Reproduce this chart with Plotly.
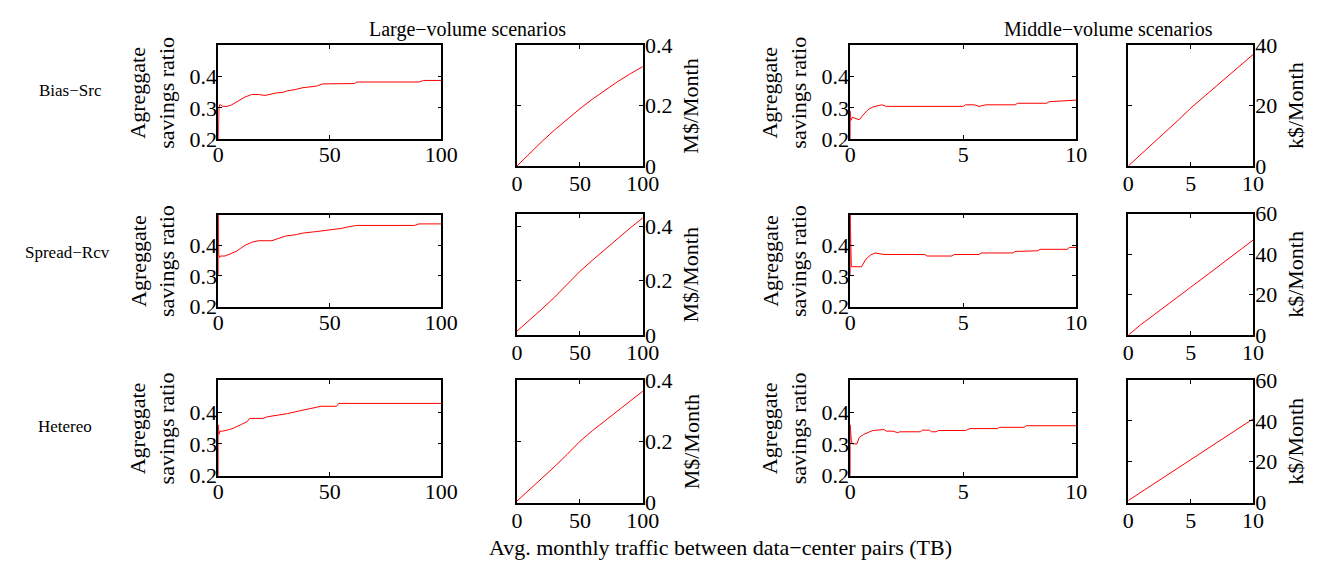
import plotly.graph_objects as go

W, H = 1333, 571
FONT = "Liberation Serif"

# ---------------- data ----------------
# Large-volume, aggregate savings ratio (x in TB)
large_bias_x = [0, 0, 0.3, 0.6, 1, 2, 4, 6, 8, 10, 12, 15, 18, 21, 23, 26, 29, 31, 34, 36, 38, 42, 44, 47, 55, 61, 62, 90, 92, 100]
large_bias_y = [0.2, 0.29, 0.30, 0.31, 0.31, 0.305, 0.305, 0.31, 0.318, 0.325, 0.335, 0.343, 0.343, 0.34, 0.343, 0.348, 0.35, 0.355, 0.358, 0.362, 0.365, 0.368, 0.37, 0.377, 0.377, 0.378, 0.383, 0.383, 0.388, 0.388]

large_spread_x = [0, 0, 0.2, 0.5, 1, 3, 5, 8, 10, 12, 15, 18, 24, 26, 30, 35, 38, 44, 50, 55, 58, 62, 88, 90, 100]
large_spread_y = [0.30, 0.5, 0.37, 0.36, 0.365, 0.365, 0.37, 0.38, 0.39, 0.40, 0.41, 0.415, 0.415, 0.42, 0.43, 0.435, 0.44, 0.445, 0.45, 0.455, 0.46, 0.465, 0.465, 0.47, 0.47]

large_het_x = [0, 0, 0.3, 0.7, 2, 5, 7, 10, 13, 14, 20, 22, 27, 31, 36, 39, 43, 46, 53, 54, 100]
large_het_y = [0.2, 0.36, 0.33, 0.34, 0.34, 0.345, 0.35, 0.36, 0.37, 0.38, 0.38, 0.385, 0.39, 0.395, 0.403, 0.407, 0.413, 0.418, 0.418, 0.427, 0.427]

# Large-volume, monthly cost (M$/Month)
large_cost_x = [0, 10, 20, 30, 40, 50, 60, 70, 80, 90, 100]
large_bias_cost = [0.0, 0.042, 0.082, 0.12, 0.156, 0.19, 0.222, 0.252, 0.28, 0.306, 0.33]
large_spread_cost = [0.015, 0.055, 0.097, 0.14, 0.187, 0.234, 0.275, 0.315, 0.355, 0.393, 0.43]
large_het_cost = [0.005, 0.042, 0.08, 0.118, 0.158, 0.2, 0.235, 0.268, 0.3, 0.332, 0.364]

# Middle-volume, aggregate savings ratio
mid_bias_x = [0, 0, 0.03, 0.1, 0.2, 0.4, 0.6, 0.8, 1.0, 1.4, 1.6, 5.0, 5.1, 5.5, 5.7, 6.0, 7.3, 7.4, 8.7, 8.8, 10]
mid_bias_y = [0.2, 0.29, 0.26, 0.27, 0.268, 0.262, 0.28, 0.295, 0.303, 0.31, 0.305, 0.305, 0.31, 0.31, 0.305, 0.31, 0.31, 0.315, 0.315, 0.32, 0.325]

mid_spread_x = [0, 0, 0.05, 0.5, 0.7, 0.9, 1.1, 1.5, 3.3, 3.4, 4.5, 4.6, 5.7, 5.8, 7.2, 7.3, 8.3, 8.4, 9.6, 9.7, 10]
mid_spread_y = [0.30, 0.5, 0.33, 0.33, 0.355, 0.368, 0.375, 0.37, 0.37, 0.365, 0.365, 0.37, 0.37, 0.375, 0.375, 0.38, 0.382, 0.387, 0.387, 0.393, 0.393]

mid_het_x = [0, 0, 0.05, 0.1, 0.3, 0.4, 0.6, 0.8, 1.0, 1.5, 1.6, 1.9, 2.1, 2.2, 3.1, 3.2, 3.5, 3.6, 3.8, 3.9, 5.1, 5.3, 6.5, 6.6, 7.7, 7.8, 10]
mid_het_y = [0.2, 0.36, 0.31, 0.30, 0.30, 0.32, 0.33, 0.335, 0.342, 0.345, 0.34, 0.34, 0.335, 0.338, 0.338, 0.343, 0.343, 0.338, 0.338, 0.342, 0.342, 0.348, 0.348, 0.352, 0.352, 0.357, 0.357]

# Middle-volume, monthly cost (k$/Month)
mid_cost_x = [0, 1, 2, 3, 4, 5, 6, 7, 8, 9, 10]
mid_bias_cost = [0, 3.8, 7.5, 11.2, 15.2, 19.2, 22.8, 26.3, 29.8, 33.5, 37]
mid_spread_cost = [0, 5.2, 9.8, 14.3, 19, 23.7, 28.3, 33, 37.7, 42.3, 47]
mid_het_cost = [1, 5, 9, 13, 17, 21, 25, 29, 33, 37, 41]

row_names = ["Bias−Src", "Spread−Rcv", "Hetereo"]
ratio_ticks = [0.2, 0.3, 0.4]
large_x_ticks = [0, 50, 100]
mid_x_ticks = [0, 5, 10]
large_cost_ticks = [0, 0.2, 0.4]
mid_cost_ticks_r1 = [0, 20, 40]
mid_cost_ticks = [0, 20, 40, 60]

# ---------------- layout geometry (pixels) ----------------
cols_px = [(216, 443), (520, 648), (859, 1089), (1142, 1269)]
ratio_rows_px = [(35, 133), (212, 308), (385, 485)]
cost_rows_px = [(35, 161), (211, 338), (385, 513)]


def dx(a, b):
    return [a / W, b / W]


def dy(top, bottom):
    return [1 - bottom / H, 1 - top / H]


fig = go.Figure()
layout = dict(
    width=W, height=H, margin=dict(l=0, r=0, t=0, b=0),
    paper_bgcolor="white", plot_bgcolor="white", showlegend=False,
    font=dict(family=FONT, size=20, color="black"),
)

ratio_data = [
    [(large_bias_x, large_bias_y), (mid_bias_x, mid_bias_y)],
    [(large_spread_x, large_spread_y), (mid_spread_x, mid_spread_y)],
    [(large_het_x, large_het_y), (mid_het_x, mid_het_y)],
]
cost_data = [
    [(large_cost_x, large_bias_cost), (mid_cost_x, mid_bias_cost)],
    [(large_cost_x, large_spread_cost), (mid_cost_x, mid_spread_cost)],
    [(large_cost_x, large_het_cost), (mid_cost_x, mid_het_cost)],
]
cost_ranges = [[[0, 0.4], [0, 40]], [[0, 0.445], [0, 60]], [[0, 0.4], [0, 60]]]
cost_ticks = [[large_cost_ticks, mid_cost_ticks_r1], [large_cost_ticks, mid_cost_ticks], [large_cost_ticks, mid_cost_ticks]]
cost_units = ["M$/Month", "k$/Month"]

TICK_SIZE = 22
axis_common = dict(showline=True, linecolor="black", linewidth=1.5, mirror="ticks",
                   ticks="inside", ticklen=4, tickwidth=1, tickcolor="black",
                   showgrid=False, zeroline=False,
                   tickfont=dict(family=FONT, size=TICK_SIZE, color="black"))

annotations = []
n = 0
for r in range(3):
    for g in range(2):  # 0 = large, 1 = middle
        # ratio panel
        n += 1
        cx = cols_px[2 * g]
        rx, ry = ratio_data[r][g]
        xr = [0, 100] if g == 0 else [0, 10]
        xt = large_x_ticks if g == 0 else mid_x_ticks
        fig.add_trace(go.Scatter(x=rx, y=ry, mode="lines", line=dict(color="#ff0000", width=1),
                                 xaxis=f"x{n}", yaxis=f"y{n}", hoverinfo="skip"))
        layout[f"xaxis{n}"] = dict(domain=dx(*cx), anchor=f"y{n}", range=xr, tickvals=xt,
                                   ticklabelstandoff=-5, **axis_common)
        layout[f"yaxis{n}"] = dict(domain=dy(*ratio_rows_px[r]), anchor=f"x{n}", range=[0.2, 0.5],
                                   tickvals=ratio_ticks, ticktext=[f"{v:.1f}" for v in ratio_ticks],
                                   ticklabelstandoff=-5, **axis_common)
        top, bot = ratio_rows_px[r]
        annotations.append(dict(text="Agreggate<br>savings ratio", x=(149 if g == 0 else 792) / W,
                                y=1 - ((top + bot) / 2) / H, xref="paper", yref="paper",
                                textangle=-90, showarrow=False, xanchor="center", yanchor="middle",
                                font=dict(family=FONT, size=22)))
        # cost panel
        n += 1
        cx = cols_px[2 * g + 1]
        kx, ky = cost_data[r][g]
        fig.add_trace(go.Scatter(x=kx, y=ky, mode="lines", line=dict(color="#ff0000", width=1),
                                 xaxis=f"x{n}", yaxis=f"y{n}", hoverinfo="skip"))
        layout[f"xaxis{n}"] = dict(domain=dx(*cx), anchor=f"y{n}", range=xr, tickvals=xt,
                                   ticklabelstandoff=-3, **axis_common)
        layout[f"yaxis{n}"] = dict(domain=dy(*cost_rows_px[r]), anchor=f"x{n}", range=cost_ranges[r][g],
                                   tickvals=cost_ticks[r][g], side="right",
                                   ticklabelstandoff=-4, **axis_common)
        top, bot = cost_rows_px[r]
        annotations.append(dict(text=cost_units[g], x=(697 if g == 0 else 1312) / W,
                                y=1 - ((top + bot) / 2) / H, xref="paper", yref="paper",
                                textangle=-90, showarrow=False, xanchor="center", yanchor="middle",
                                font=dict(family=FONT, size=22)))

# row labels
row_label_pos = [(66, 82), (63, 251), (60, 433)]
for name, (px, py) in zip(row_names, row_label_pos):
    annotations.append(dict(text=name, x=px / W, y=1 - py / H, xref="paper", yref="paper",
                            showarrow=False, xanchor="center", yanchor="middle",
                            font=dict(family=FONT, size=17)))

annotations.append(dict(text="Large−volume scenarios", x=470 / W, y=1 - 18 / H, xref="paper", yref="paper",
                        showarrow=False, xanchor="center", yanchor="middle", font=dict(family=FONT, size=20)))
annotations.append(dict(text="Middle−volume scenarios", x=1122 / W, y=1 - 18 / H, xref="paper", yref="paper",
                        showarrow=False, xanchor="center", yanchor="middle", font=dict(family=FONT, size=20)))
annotations.append(dict(text="Avg. monthly traffic between data−center pairs (TB)", x=727 / W, y=1 - 560 / H,
                        xref="paper", yref="paper", showarrow=False, xanchor="center", yanchor="middle",
                        font=dict(family=FONT, size=22)))

layout["annotations"] = annotations
fig.update_layout(**layout)
fig.write_html("out.html")
